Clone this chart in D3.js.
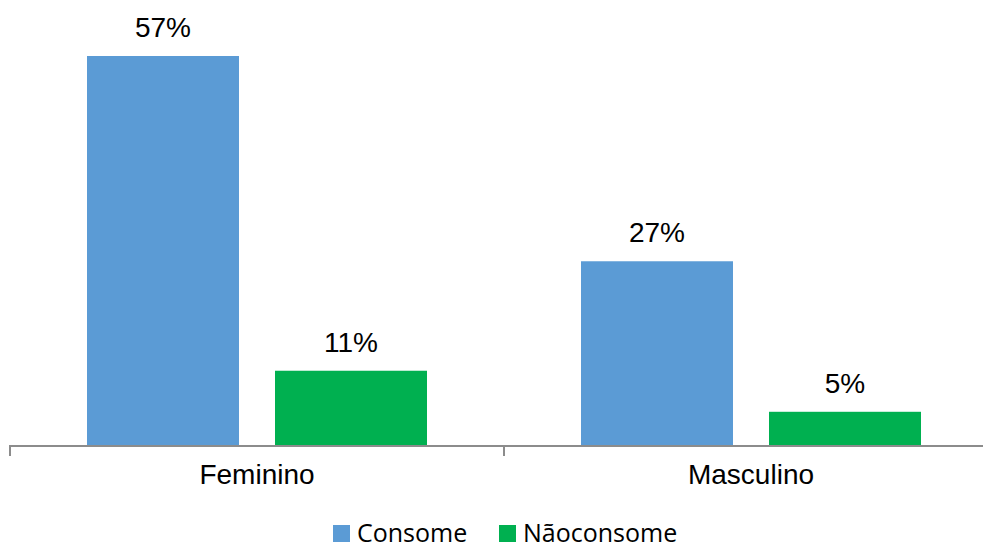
<!DOCTYPE html>
<html>
<head>
<meta charset="utf-8">
<script src="https://cdn.jsdelivr.net/npm/d3@7"></script>
<style>
  body { margin: 0; background: #fff; }
  svg { display: block; }
</style>
</head>
<body>
<script>
var categories = ["Feminino", "Masculino"];
var seriesNames = ["Consome", "Nãoconsome"];
var consome = [57, 27];
var naoConsome = [11, 5];
var colors = ["#5b9bd5", "#00b050"];

var svgwidth = 983, svgheight = 546;
var axisLeft = 10, axisRight = 998, baseline = 446;

var svg = d3.select("body").append("svg")
    .attr("width", svgwidth)
    .attr("height", svgheight);

var x0 = d3.scaleBand().domain(categories).range([axisLeft, axisRight]).paddingInner(0).paddingOuter(0);
var x1 = d3.scaleBand().domain(seriesNames).range([77, 417]).paddingInner(36 / 188);
var y = d3.scaleLinear().domain([0, 57]).range([baseline, 56]);

var rows = categories.map(function (c, i) {
  return { cat: c, values: [consome[i], naoConsome[i]] };
});

var groups = svg.selectAll("g.cat")
    .data(rows)
  .enter().append("g")
    .attr("class", "cat")
    .attr("transform", function (d) { return "translate(" + x0(d.cat) + ",0)"; });

groups.selectAll("rect")
    .data(function (d) { return d.values.map(function (v, j) { return { s: seriesNames[j], v: v, j: j }; }); })
  .enter().append("rect")
    .attr("x", function (d) { return x1(d.s); })
    .attr("y", function (d) { return y(d.v); })
    .attr("width", x1.bandwidth())
    .attr("height", function (d) { return baseline - y(d.v); })
    .attr("fill", function (d) { return colors[d.j]; });

groups.selectAll("text.val")
    .data(function (d) { return d.values.map(function (v, j) { return { s: seriesNames[j], v: v }; }); })
  .enter().append("text")
    .attr("class", "val")
    .attr("x", function (d) { return x1(d.s) + x1.bandwidth() / 2; })
    .attr("y", function (d) { return y(d.v) - 19; })
    .attr("text-anchor", "middle")
    .style("font-family", "'Liberation Sans', Arial, sans-serif")
    .style("font-size", "28px")
    .attr("fill", "#000")
    .text(function (d) { return d.v + "%"; });

// x axis
var axis = svg.append("g")
    .attr("transform", "translate(0," + baseline + ")")
    .call(d3.axisBottom(x0).tickSize(0).tickFormat(""));
axis.select(".domain").attr("stroke", "#8c8c8c").attr("stroke-width", 2)
    .attr("d", "M" + axisLeft + ",10V0H" + axisRight);
axis.selectAll(".tick").remove();

var bounds = [axisLeft, axisLeft + x0.bandwidth(), axisRight];
svg.selectAll("line.sep")
    .data(bounds)
  .enter().append("line")
    .attr("class", "sep")
    .attr("x1", function (d) { return d; })
    .attr("x2", function (d) { return d; })
    .attr("y1", baseline)
    .attr("y2", baseline + 10)
    .attr("stroke", "#8c8c8c")
    .attr("stroke-width", 2);

svg.selectAll("text.cat")
    .data(categories)
  .enter().append("text")
    .attr("class", "cat")
    .attr("x", function (d) { return x0(d) + x0.bandwidth() / 2; })
    .attr("y", 484)
    .attr("text-anchor", "middle")
    .style("font-family", "'Liberation Sans', Arial, sans-serif")
    .style("font-size", "28px")
    .text(function (d) { return d; });

// legend
var legendX = [333, 499];
var legend = svg.selectAll("g.leg")
    .data(seriesNames)
  .enter().append("g")
    .attr("class", "leg")
    .attr("transform", function (d, i) { return "translate(" + legendX[i] + ",525)"; });
legend.append("rect")
    .attr("width", 17).attr("height", 17)
    .attr("fill", function (d, i) { return colors[i]; });
legend.append("text")
    .attr("x", 24)
    .attr("y", 17)
    .style("font-family", "'Open Sans', 'Noto Sans', sans-serif")
    .style("font-size", "25px")
    .attr("fill", "#000")
    .text(function (d) { return d; });
</script>
</body>
</html>
